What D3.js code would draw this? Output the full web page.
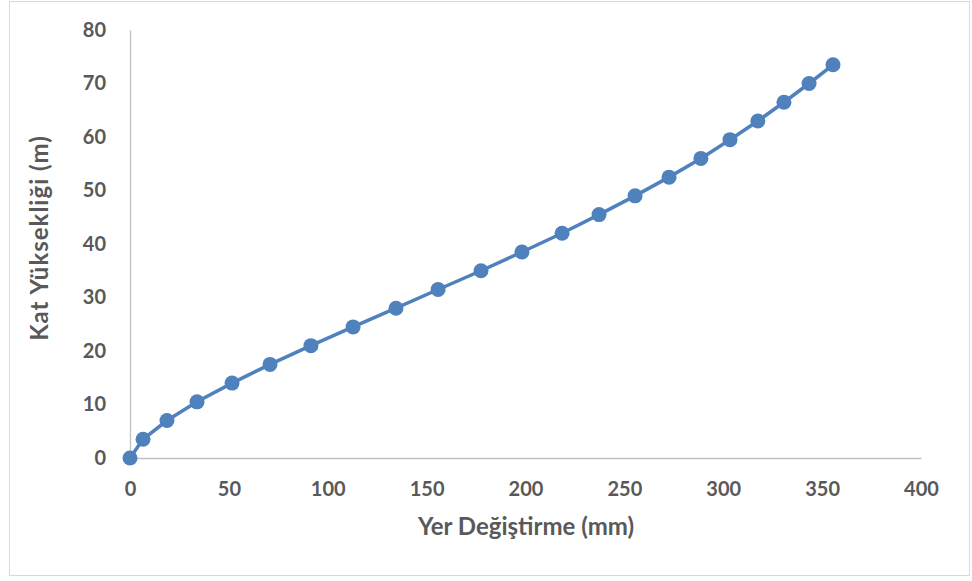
<!DOCTYPE html>
<html><head><meta charset="utf-8">
<script src="https://cdn.jsdelivr.net/npm/d3@7/dist/d3.min.js"></script>
<style>body{margin:0;background:#fff}svg{display:block}</style>
</head><body>
<script>
const xValues = [0, 6.6, 18.7, 33.9, 51.6, 70.8, 91.5, 112.8, 134.5, 155.8, 177.5, 198.2, 218.5, 237.2, 255.4, 272.6, 288.7, 303.4, 317.5, 330.7, 343.4, 355.5];
const yValues = [0, 3.5, 7, 10.5, 14, 17.5, 21, 24.5, 28, 31.5, 35, 38.5, 42, 45.5, 49, 52.5, 56, 59.5, 63, 66.5, 70, 73.5];
const xTicks = [0, 50, 100, 150, 200, 250, 300, 350, 400];
const yTicks = [0, 10, 20, 30, 40, 50, 60, 70, 80];
const xTitle = "Yer Değiştirme (mm)";
const yTitle = "Kat Yüksekliği (m)";

const W = 972, H = 581;
const svg = d3.select("body").append("svg").attr("width", W).attr("height", H);
svg.append("rect").attr("x", 9.5).attr("y", 1.5).attr("width", 960).attr("height", 574)
  .attr("fill", "#fff").attr("stroke", "#d9d9d9").attr("stroke-width", 1);

const x = d3.scaleLinear().domain([0, 400]).range([130, 921]);
const y = d3.scaleLinear().domain([0, 80]).range([458, 30]);
const font = "Lato, 'Open Sans', sans-serif";
const txt = "#595959";

const xa = svg.append("g").attr("transform", `translate(0,${y(0)})`)
  .call(d3.axisBottom(x).tickValues(xTicks).tickSize(0).tickPadding(24));
const ya = svg.append("g").attr("transform", `translate(${x(0)},0)`)
  .call(d3.axisLeft(y).tickValues(yTicks).tickSize(0).tickPadding(24));
[xa, ya].forEach(a => {
  a.select(".domain").attr("stroke", "#bfbfbf").attr("stroke-width", 1.3);
  a.selectAll("text").attr("fill", txt).style("font-family", font)
    .style("font-weight", "bold").style("font-size", "20px");
});

const pts = xValues.map((v, i) => [v, yValues[i]]);
svg.append("path").datum(pts)
  .attr("d", d3.line().x(d => x(d[0])).y(d => y(d[1])))
  .attr("fill", "none").attr("stroke", "#4f81bd").attr("stroke-width", 3.5);
svg.selectAll("circle.pt").data(pts).enter().append("circle")
  .attr("class", "pt").attr("cx", d => x(d[0])).attr("cy", d => y(d[1])).attr("r", 7.5)
  .attr("fill", "#4f81bd");

svg.append("text").attr("x", 526).attr("y", 535).attr("text-anchor", "middle")
  .attr("fill", txt).style("font-family", font).style("font-weight", "bold").style("font-size", "24px")
  .text(xTitle);
svg.append("text").attr("transform", "translate(40,238) rotate(-90)").attr("text-anchor", "middle")
  .attr("dy", "0.35em").attr("letter-spacing", "1px")
  .attr("fill", txt).style("font-family", font).style("font-weight", "bold").style("font-size", "24px")
  .text(yTitle);
</script>
</body></html>
